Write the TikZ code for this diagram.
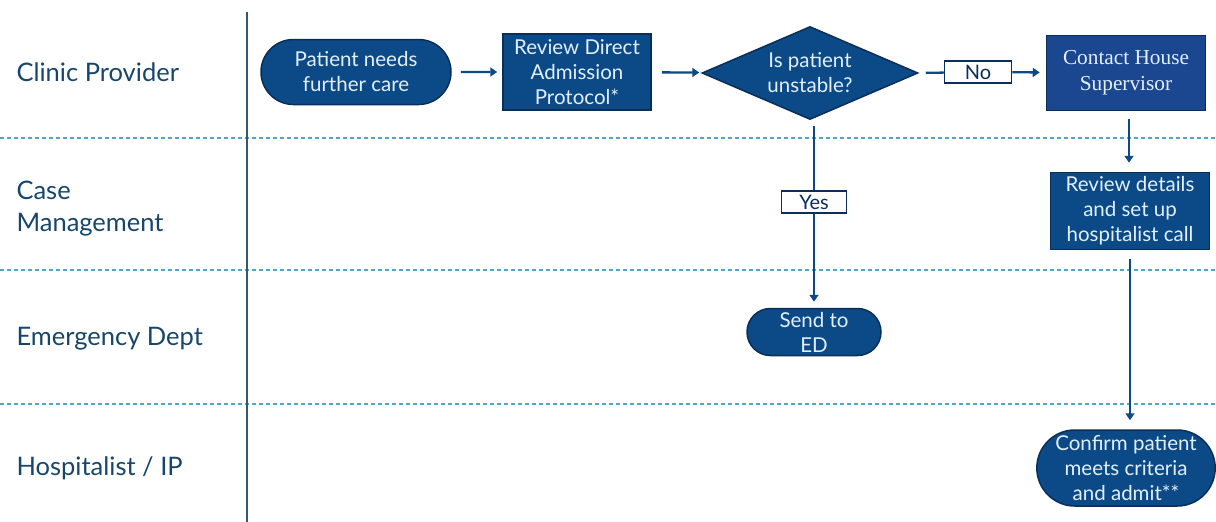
\documentclass[tikz,border=0pt]{standalone}
\usepackage{fontspec}
\setmainfont{Lato}
\newfontfamily\serifbox{Liberation Serif}
\usetikzlibrary{shapes.geometric,shapes.misc,arrows.meta}
\definecolor{navy}{HTML}{0B4A86}
\definecolor{edge}{HTML}{0A2E5A}
\definecolor{lanetext}{HTML}{18466B}
\definecolor{laneline}{HTML}{4FA6C9}
\definecolor{paleblue}{HTML}{E2EFFB}
\definecolor{supblue}{HTML}{1B4791}
\tikzset{
  lane/.style={anchor=west, align=left, text=lanetext, font=\fontsize{25.5}{32}\selectfont},
  proc/.style={draw=edge, fill=navy, line width=1.5pt, text=paleblue, align=center,
    inner sep=0pt, font=\fontsize{20.5}{25}\selectfont},
  term/.style={proc, rounded rectangle},
  decision/.style={proc, diamond, aspect=2.3},
  lbl/.style={draw=edge, fill=white, line width=1.5pt, text=edge, inner sep=0pt,
    minimum height=22pt, font=\fontsize{20}{22}\selectfont},
  flow/.style={draw=navy, line width=2.3pt, -{Triangle[length=7pt,width=9pt]}},
}
\begin{document}
\begin{tikzpicture}[x=1pt, y=-1pt]
    % swim lanes
    \useasboundingbox (0,0) rectangle (1216,522);
    \draw[laneline, line width=1.2pt, dashed, dash pattern=on 4pt off 3pt] (0,138) -- (1216,138);
    \draw[laneline, line width=1.2pt, dashed, dash pattern=on 4pt off 3pt] (0,270) -- (1216,270);
    \draw[laneline, line width=1.2pt, dashed, dash pattern=on 4pt off 3pt] (0,404) -- (1216,404);
    \draw[color=lanetext!70!gray, line width=1.8pt] (247,12) -- (247,522);
    \node[lane] (clinic) at (13,72) {Clinic Provider};
    \node[lane] (casemgmt) at (13,209) {Case\\Management};
    \node[lane] (emerg) at (13,339) {Emergency Dept};
    \node[lane] (hosp) at (13,468) {Hospitalist / IP};
    % steps
    \node[term, minimum width=190pt, minimum height=65pt] (needs) at (356,72) {Patient needs\\further care};
    \node[proc, minimum width=148pt, minimum height=76pt] (review) at (577,72) {Review Direct\\Admission\\Protocol*};
    \node[decision, minimum width=216pt, minimum height=93pt] (unstable) at (810,73) {Is patient\\unstable?};
    \node[proc, fill=supblue, minimum width=159pt, minimum height=75pt,
      font=\serifbox\fontsize{21.3}{26}\selectfont] (contact) at (1126,73) {Contact House\\Supervisor};
    \node[proc, minimum width=159pt, minimum height=77pt] (details) at (1130,211) {Review details\\and set up\\hospitalist call};
    \node[term, minimum width=134pt, minimum height=47pt] (sendED) at (814,332) {Send to\\ED};
    \node[term, minimum width=178pt, minimum height=76pt] (confirm) at (1126,468) {Confirm patient\\meets criteria\\and admit**};
    \node[lbl, minimum width=67pt] (no) at (978,72) {No};
    \node[lbl, minimum width=65pt] (yes) at (814,202) {Yes};
    % connectors
    \draw[flow, shorten <=9pt, shorten >=5pt] (needs) -- (review);
    \draw[flow, shorten <=10pt, shorten >=3pt] (review) -- (unstable);
    \draw[flow, -, shorten <=7pt] (unstable.east) -- (no);
    \draw[flow, shorten >=6pt] (no) -- (contact);
    \draw[flow, -, shorten <=6pt] (unstable.south -| yes) -- (yes);
    \draw[flow, shorten >=6pt] (yes) -- (sendED);
    \draw[flow, shorten <=8pt, shorten >=9pt] (contact.south -| 1129,0) -- (details.north -| 1129,0);
    \draw[flow, shorten <=9pt, shorten >=9pt] (details) -- (confirm.north -| details);
  \end{tikzpicture}
\end{document}
